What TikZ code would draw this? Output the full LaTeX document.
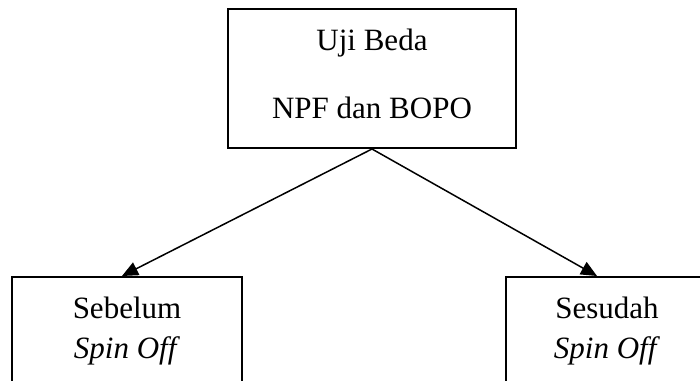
\documentclass[tikz,border=0pt]{standalone}
\usepackage{fontspec}
\setmainfont{Liberation Serif}
\usetikzlibrary{arrows.meta}
\tikzset{box/.style={draw,rectangle,line width=1pt,align=center,inner sep=0pt},
         linkarrow/.style={-{Triangle[length=8pt,width=7pt]},line width=0.75pt}}

\begin{document}
\begin{tikzpicture}[x=1pt,y=1pt]
                   \clip (0,0) rectangle (350,190);
                   \node[box,minimum width=144pt,minimum height=69.5pt,font=\fontsize{15.5}{34}\selectfont] (uji) at (186,150.75) {Uji Beda\\NPF dan BOPO\rule[-5pt]{0pt}{0pt}};
                   \node[box,anchor=north,minimum width=115pt,minimum height=54pt,font=\fontsize{15.5}{20}\selectfont] (sebelum) at (63.5,52) {Sebelum\\\textit{Spin Off}};
                   \node[box,anchor=north,minimum width=101pt,minimum height=54pt,font=\fontsize{15.5}{20}\selectfont] (sesudah) at (303.5,52) {Sesudah\\\textit{Spin Off}};
                    \path[linkarrow]
                    (uji.south) edge ([xshift=-2.5pt]sebelum.north)
                                edge ([xshift=-5pt]sesudah.north)
					;
                \end{tikzpicture}
\end{document}
